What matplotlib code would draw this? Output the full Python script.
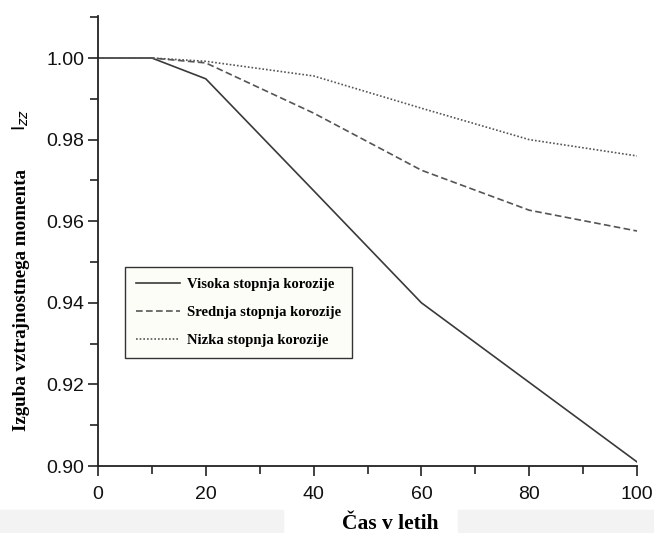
import matplotlib
matplotlib.use("Agg")
import matplotlib.pyplot as plt
from matplotlib.patches import Rectangle
from matplotlib.ticker import MultipleLocator, FormatStrFormatter

years = [0, 10, 20, 40, 60, 80, 100]
visoka = [1.000, 1.000, 0.9949, 0.9675, 0.9400, 0.9205, 0.9010]
srednja = [1.000, 1.000, 0.9988, 0.9865, 0.9725, 0.9627, 0.9576]
nizka = [1.000, 1.000, 0.9992, 0.9956, 0.9877, 0.9800, 0.9760]
labels = ["Visoka stopnja korozije", "Srednja stopnja korozije", "Nizka stopnja korozije"]

fig = plt.figure(figsize=(6.54, 5.33), dpi=100)
ax = fig.add_axes([98/654, 1-466/533, 539/654, 450/533])

ax.plot(years, visoka, color="#3a3a3a", lw=1.2, ls="-", label=labels[0])
ax.plot(years, srednja, color="#555555", lw=1.2, ls=(0, (4, 2)), label=labels[1])
ax.plot(years, nizka, color="#555555", lw=1.2, ls=(0, (1, 1.2)), label=labels[2])

ax.set_xlim(0, 100)
ax.set_ylim(0.90, 1.0103)
ax.xaxis.set_major_locator(MultipleLocator(20))
ax.xaxis.set_minor_locator(MultipleLocator(10))
ax.yaxis.set_major_locator(MultipleLocator(0.02))
ax.yaxis.set_minor_locator(MultipleLocator(0.01))
ax.yaxis.set_major_formatter(FormatStrFormatter("%.2f"))
for s in ["top", "right"]:
    ax.spines[s].set_visible(False)
for s in ["left", "bottom"]:
    ax.spines[s].set_linewidth(1.3)
    ax.spines[s].set_color("#222222")
ax.tick_params(which="both", direction="out", width=1.2, color="#222222")
ax.tick_params(which="major", length=7.5, labelsize=14, labelcolor="#111111")
ax.tick_params(axis="y", which="major", pad=2.5)
ax.tick_params(axis="x", which="major", pad=7)
ax.tick_params(which="minor", length=6)
for t in ax.get_xticklabels() + ax.get_yticklabels():
    t.set_fontfamily("Liberation Sans")

fig.text(390/654, 1-524/533, "Čas v letih", fontfamily="Liberation Serif",
         fontweight="bold", fontsize=15.5, ha="center", va="center")
fig.text(22/654, 1-300/533, "Izguba vztrajnostnega momenta", fontfamily="Liberation Serif",
         fontweight="bold", fontsize=13.7, ha="center", va="center", rotation=90)
fig.text(21/654, 1-120/533, r"$\mathregular{I}_{zz}$", fontfamily="Liberation Sans",
         fontsize=14, ha="center", va="center", rotation=90)

leg = ax.legend(loc="lower left", bbox_to_anchor=(0.05, 0.24), frameon=True,
                fancybox=False, handlelength=3.0, handletextpad=0.5,
                prop={"family": "Liberation Serif", "weight": "bold", "size": 10.5},
                borderpad=0.75, labelspacing=1.0, borderaxespad=0)
leg.get_frame().set_edgecolor("#333333")
leg.get_frame().set_facecolor("#fdfdf8")
leg.get_frame().set_linewidth(1.0)
leg.get_frame().set_alpha(1)

fig.patches.append(Rectangle((0, 0), 283/654, 23/533, transform=fig.transFigure,
                             color="#f3f3f3", zorder=-1))
fig.patches.append(Rectangle((458/654, 0), 196/654, 23/533, transform=fig.transFigure,
                             color="#f3f3f3", zorder=-1))

fig.savefig("out.png", dpi=100)
